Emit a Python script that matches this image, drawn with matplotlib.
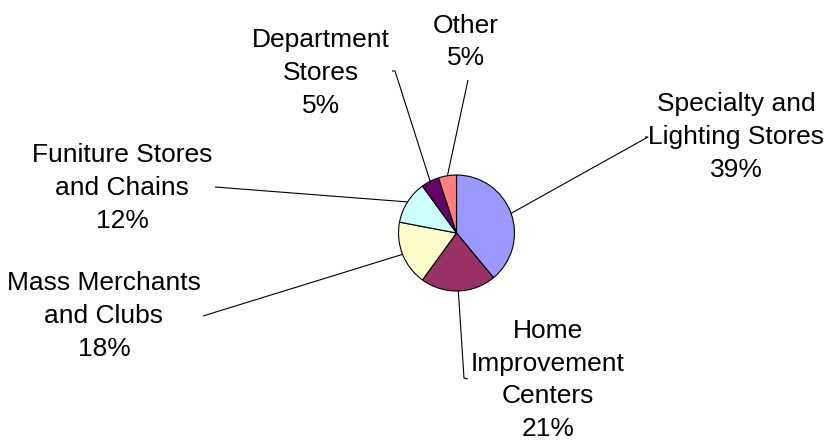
import numpy as np
import matplotlib.pyplot as plt

plt.rcParams['font.family'] = ['Liberation Sans', 'DejaVu Sans']

# retail channel share, clockwise from 12 o'clock
channels = ["Specialty and\nLighting Stores", "Home\nImprovement\nCenters",
            "Mass Merchants\nand Clubs", "Funiture Stores\nand Chains",
            "Department\nStores", "Other"]
shares = [39, 21, 18, 12, 5, 5]
colors = ["#9999FF", "#993366", "#FFFFCC", "#CCFFFF", "#660066", "#FF8080"]

W, H = 829, 440
cx, cy, r = 456.5, H - 233, 58

# label block centres and leader ends (pixels from top-left)
label_xy = [(736, 137), (548, 380), (104, 316), (122, 188), (321, 73), (466, 42)]
leader_end = [[(648, 137), (645, 137)],
              [(464, 378), (468, 379)],
              [(203, 316)],
              [(215, 187)],
              [(395, 71), (392, 71)],
              [(468, 80)]]

fig = plt.figure(figsize=(W / 100, H / 100), dpi=100)
ax = fig.add_axes([0, 0, 1, 1])

wedges, _ = ax.pie(shares, colors=colors, startangle=90, counterclock=False,
                   center=(cx, cy), radius=r,
                   wedgeprops=dict(edgecolor="black", linewidth=0.8))

total = sum(shares)
cum = 0
for name, val, (lx, ly), ends in zip(channels, shares, label_xy, leader_end):
    mid = np.deg2rad(90 - (cum + val / 2) / total * 360)
    cum += val
    sx, sy = cx + r * np.cos(mid), cy + r * np.sin(mid)
    xs = [sx] + [p[0] for p in ends]
    ys = [sy] + [H - p[1] for p in ends]
    ax.plot(xs, ys, color="black", lw=0.8, solid_capstyle="butt")
    ax.text(lx, H - ly, f"{name}\n{val}%", ha="center", va="center",
            fontsize=19, linespacing=1.45, color="black")

ax.set_xlim(0, W)
ax.set_ylim(0, H)
ax.set_aspect("equal")
ax.axis("off")

fig.savefig("out.png", dpi=100)
